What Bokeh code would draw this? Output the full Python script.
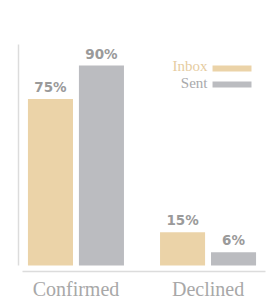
from bokeh.plotting import figure
from bokeh.models import FactorRange, Range1d, ColumnDataSource, Label, BoxAnnotation, FixedTicker
from bokeh.transform import dodge
from bokeh.core.properties import value
from bokeh.embed import file_html
from bokeh.resources import INLINE

categories = ["Confirmed", "Declined"]
series = ["Inbox", "Sent"]
inbox = [75, 15]
sent = [90, 6]
inbox_labels = ["75%", "15%"]
sent_labels = ["90%", "6%"]
colors = ["#EBD3A8", "#BBBCC0"]
legend_text_colors = ["#E6CC9F", "#A9A9AB"]

src = ColumnDataSource(dict(cat=categories, inbox=inbox, sent=sent,
                            inbox_lbl=inbox_labels, sent_lbl=sent_labels))

p = figure(
    x_range=FactorRange(factors=categories, range_padding=-0.065, range_padding_units="absolute"),
    y_range=Range1d(-2.7, 99.5),
    frame_width=247, frame_height=227,
    min_border_left=18, min_border_right=4, min_border_top=44, min_border_bottom=29,
    output_backend="svg", toolbar_location=None,
)
p.outline_line_color = None
p.xgrid.visible = False
p.ygrid.visible = False
p.background_fill_color = "white"
p.border_fill_color = "white"

off = 0.193
bw = 0.341
p.vbar(x=dodge("cat", -off, range=p.x_range), top="inbox", bottom=0, width=bw,
       source=src, fill_color=colors[0], line_color=None)
p.vbar(x=dodge("cat", off, range=p.x_range), top="sent", bottom=0, width=bw,
       source=src, fill_color=colors[1], line_color=None)

for key, d in (("inbox", -off), ("sent", off)):
    p.text(x=dodge("cat", d, range=p.x_range), y=key, text=key + "_lbl", source=src,
           text_align="center", text_baseline="alphabetic", y_offset=-12,
           text_font=value("DejaVu Sans"), text_font_style="bold",
           text_font_size="13.5px", text_color="#9a9a9a")

# axes
ya = p.yaxis[0]
ya.ticker = FixedTicker(ticks=[])
ya.bounds = (0, 99.5)
ya.axis_line_color = "#dcdcdc"
ya.axis_line_width = 1.5
ya.major_tick_line_color = None
ya.minor_tick_line_color = None
ya.major_tick_out = 0
ya.major_label_standoff = 0

xa = p.xaxis[0]
xa.bounds = (0.095, 1.935)
xa.axis_line_color = "#dcdcdc"
xa.axis_line_width = 1.5
xa.major_tick_line_color = None
xa.minor_tick_line_color = None
xa.major_tick_out = 0
xa.major_label_standoff = 6
xa.major_label_text_font = "Liberation Serif"
xa.major_label_text_font_size = "20px"
xa.major_label_text_color = "#a8a8a8"

# legend (label left of swatch)
leg_y = [87.35, 80.14]
for name, c, tc, y in zip(series, colors, legend_text_colors, leg_y):
    p.add_layout(Label(x=1.496, y=y + 2.25, text=name, text_align="right", text_baseline="alphabetic",
                       text_font="Liberation Serif", text_font_size="15px", text_color=tc))
    p.add_layout(BoxAnnotation(left=1.534, right=1.829, bottom=y, top=y + 2.75,
                               fill_color=c, fill_alpha=1, line_color=None))

open("out.html", "w").write(file_html(p, INLINE))
